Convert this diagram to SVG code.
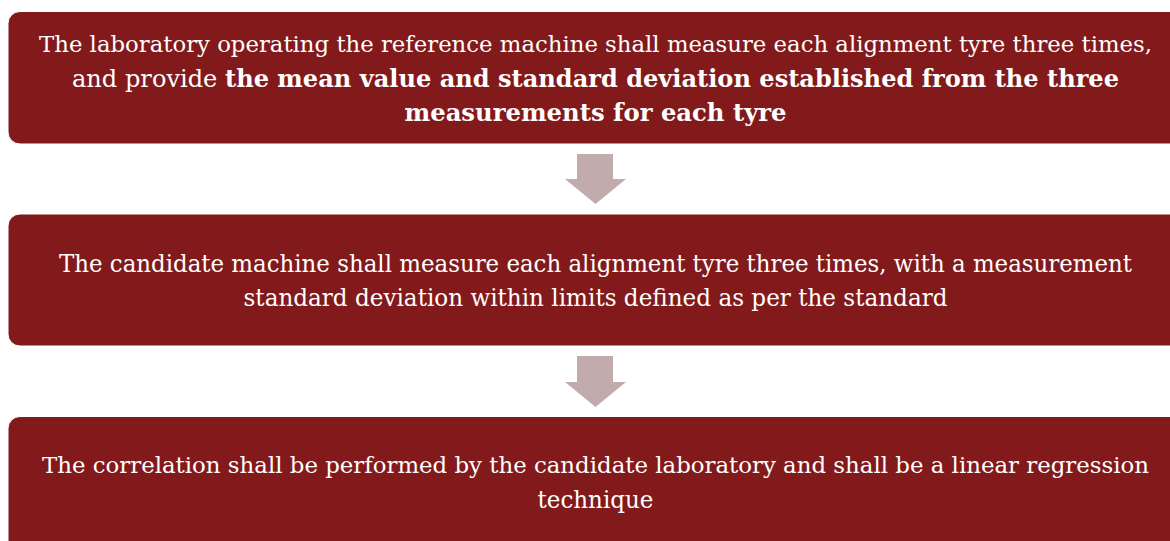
<svg xmlns="http://www.w3.org/2000/svg" width="1170" height="541" viewBox="0 0 1170 541">
  <style>
    .box { fill: #821a1b; stroke: #ffffff; stroke-width: 1; }
    .arrow { fill: #c1abad; }
    .t { font-family: "DejaVu Serif", "Liberation Serif", serif; font-size: 23.5px; fill: #ffffff; text-anchor: middle; }
    .long { font-size: 22.5px; }
    .b { font-weight: bold; }
  </style>
  <rect width="1170" height="541" fill="#ffffff"/>

  <g id="step-reference">
    <rect class="box" x="8" y="11.5" width="1175" height="132.5" rx="12" ry="12"/>
    <text class="t long" x="595.5" y="52" textLength="1113" lengthAdjust="spacingAndGlyphs">The laboratory operating the reference machine shall measure each alignment tyre three times,</text>
    <text class="t" x="595.5" y="87" textLength="1047" lengthAdjust="spacingAndGlyphs">and provide <tspan class="b">the mean value and standard deviation established from the three</tspan></text>
    <text class="t b" x="595.5" y="121" textLength="382" lengthAdjust="spacingAndGlyphs">measurements for each tyre</text>
  </g>

  <g id="step-candidate">
    <rect class="box" x="8" y="214" width="1175" height="132" rx="12" ry="12"/>
    <text class="t" x="595.5" y="272" textLength="1073" lengthAdjust="spacingAndGlyphs">The candidate machine shall measure each alignment tyre three times, with a measurement</text>
    <text class="t" x="595.5" y="306" textLength="704" lengthAdjust="spacingAndGlyphs">standard deviation within limits defined as per the standard</text>
  </g>

  <g id="step-correlation">
    <rect class="box" x="8" y="416.5" width="1175" height="140" rx="12" ry="12"/>
    <text class="t long" x="595.5" y="473" textLength="1107" lengthAdjust="spacingAndGlyphs">The correlation shall be performed by the candidate laboratory and shall be a linear regression</text>
    <text class="t" x="595.5" y="508" textLength="116" lengthAdjust="spacingAndGlyphs">technique</text>
  </g>

  <g id="connectors">
    <polygon class="arrow" points="577,154 613,154 613,179 626,179 595.5,204 565,179 577,179"/>
    <polygon class="arrow" points="577,356 613,356 613,382 626,382 595.5,407 565,382 577,382"/>
  </g>
</svg>
